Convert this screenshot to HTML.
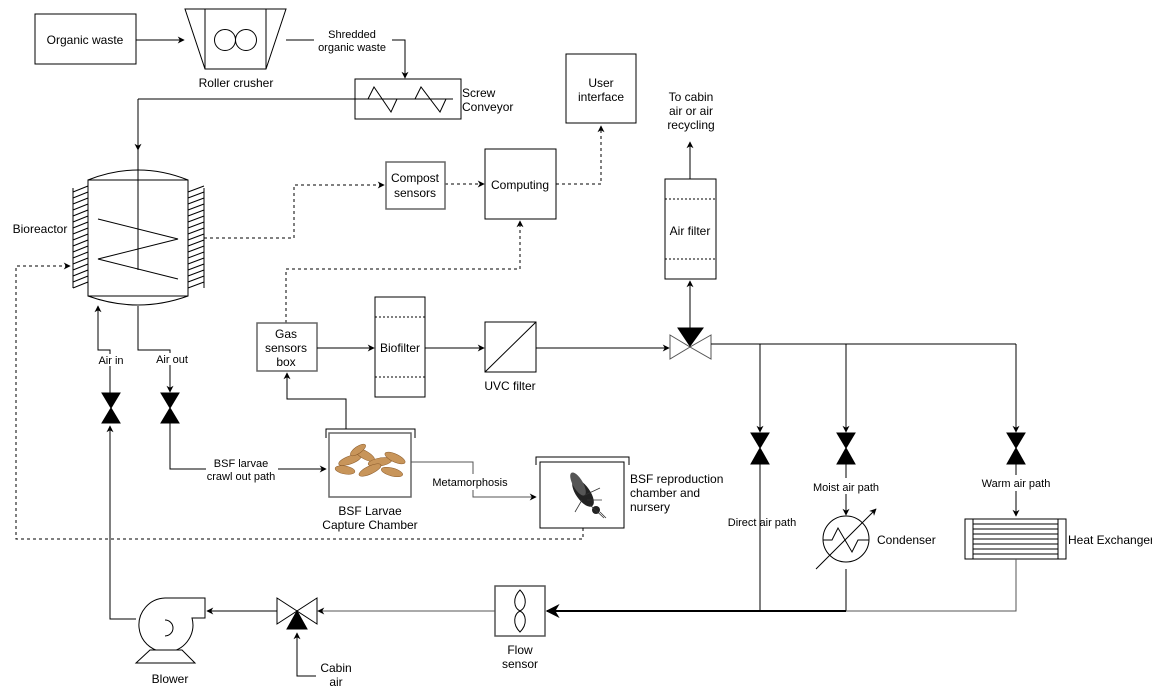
<!DOCTYPE html>
<html><head><meta charset="utf-8"><style>
html,body{margin:0;padding:0;background:#fff;}
svg{display:block;font-family:"Liberation Sans",Arial,sans-serif;}
text{font-size:12px;fill:#000;}
.s{font-size:11px;}
</style></head><body>
<svg width="1152" height="687" viewBox="0 0 1152 687" xmlns="http://www.w3.org/2000/svg">
<defs>
<marker id="a" viewBox="0 0 10 10" refX="9" refY="5" markerWidth="7" markerHeight="7" orient="auto-start-reverse"><path d="M0,0 L10,5 L0,10 L3,5 z" fill="#000"/></marker>
</defs>
<g fill="none" stroke="#000" stroke-width="1">
<!-- organic waste -->
<rect x="35" y="14" width="101" height="50"/>
<line x1="136" y1="40" x2="184" y2="40" marker-end="url(#a)"/>
<!-- roller crusher -->
<path d="M185,9 L286,9 L266,69 L205,69 Z"/>
<line x1="205" y1="9" x2="205" y2="69"/><line x1="266" y1="9" x2="266" y2="69"/>
<circle cx="225" cy="40" r="10.5"/><circle cx="246" cy="40" r="10.5"/>
<!-- shredded -->
<path d="M286,40 L314,40 M392,40 L405,40 L405,78" marker-end="url(#a)"/>
<!-- screw conveyor -->
<rect x="355" y="79" width="106" height="40"/>
<path d="M138,99 L453,99"/>
<path d="M368,99 L374,87 L391,112 L397,99 M415,99 L421,87 L440,112 L446,99"/>
<line x1="138" y1="99" x2="138" y2="150" marker-end="url(#a)"/>
<line x1="138" y1="150" x2="138" y2="270"/>
<!-- bioreactor -->
<rect x="88" y="180" width="100" height="116"/>
<path d="M88,180 Q138,160 188,180 M88,296 Q138,314 188,296"/>
<path d="M98,219 L178,239 L98,259 L178,279"/>
<path d="M73,188 V288 M88,188 V288 M188,188 V288 M204,188 V288"/>
<path d="M73,192 L88,186 M73,198 L88,192 M73,204 L88,198 M73,210 L88,204 M73,216 L88,210 M73,222 L88,216 M73,228 L88,222 M73,234 L88,228 M73,240 L88,234 M73,246 L88,240 M73,252 L88,246 M73,258 L88,252 M73,264 L88,258 M73,270 L88,264 M73,276 L88,270 M73,282 L88,276 M73,288 L88,282"/>
<path d="M188,192 L204,186 M188,198 L204,192 M188,204 L204,198 M188,210 L204,204 M188,216 L204,210 M188,222 L204,216 M188,228 L204,222 M188,234 L204,228 M188,240 L204,234 M188,246 L204,240 M188,252 L204,246 M188,258 L204,252 M188,264 L204,258 M188,270 L204,264 M188,276 L204,270 M188,282 L204,276 M188,288 L204,282"/>
<!-- dashed signal lines -->
<g stroke-dasharray="3,3">
<path d="M204,238 L294,238 L294,185 L384,185" marker-end="url(#a)"/>
<path d="M445,184 L484,184" marker-end="url(#a)"/>
<path d="M556,184 L601,184 L601,126" marker-end="url(#a)"/>
<path d="M286,323 L286,269 L520,269 L520,221" marker-end="url(#a)"/>
<path d="M583,528 L583,539 L16,539 L16,266 L70,266" marker-end="url(#a)"/>
</g>
<rect x="386" y="162" width="59" height="47" stroke="#666" stroke-width="1.5"/>
<rect x="485" y="149" width="71" height="70"/>
<rect x="566" y="54" width="70" height="69"/>
<!-- air filter -->
<rect x="665" y="179" width="51" height="100"/>
<path d="M665,199 H716 M665,259 H716" stroke-dasharray="2,2"/>
<line x1="690" y1="179" x2="690" y2="142" marker-end="url(#a)"/>
<line x1="690" y1="328" x2="690" y2="281" marker-end="url(#a)"/>
<!-- gas sensors, biofilter, uvc -->
<rect x="257" y="323" width="60" height="48" stroke="#666" stroke-width="1.5"/>
<line x1="317" y1="348" x2="374" y2="348" marker-end="url(#a)"/>
<rect x="375" y="297" width="50" height="100"/>
<path d="M375,317 H425 M375,377 H425" stroke-dasharray="2,2"/>
<line x1="425" y1="348" x2="484" y2="348" marker-end="url(#a)"/>
<rect x="485" y="322" width="51" height="50"/>
<line x1="485" y1="372" x2="536" y2="322"/>
<line x1="536" y1="348" x2="669" y2="348" marker-end="url(#a)"/>
<!-- 3-way valve -->
<path d="M670,335 L690,347 L670,359 Z M711,335 L690,347 L711,359 Z" stroke="#555"/>
<path d="M678,328 L703,328 L690,346 Z" fill="#000"/>
<path d="M711,344 L1016,344"/>
<line x1="760" y1="344" x2="760" y2="432" marker-end="url(#a)"/>
<line x1="846" y1="344" x2="846" y2="432" marker-end="url(#a)"/>
<line x1="1016" y1="344" x2="1016" y2="432" marker-end="url(#a)"/>
<g fill="#000">
<path d="M751,433 L769,433 L760,448 Z M751,464 L769,464 L760,448 Z"/>
<path d="M837,433 L855,433 L846,448 Z M837,464 L855,464 L846,448 Z"/>
<path d="M1007,433 L1025,433 L1016,448 Z M1007,464 L1025,464 L1016,448 Z"/>
<path d="M102,393 L120,393 L111,408 Z M102,423 L120,423 L111,408 Z"/>
<path d="M161,393 L179,393 L170,408 Z M161,423 L179,423 L170,408 Z"/>
</g>
<path d="M760,464 V611"/>
<path d="M846,464 V478 M846,494 V515" marker-end="url(#a)"/>
<circle cx="846" cy="539" r="23"/>
<path d="M823,540 L832,540 L838,528 L852,552 L858,540 L869,540"/>
<line x1="816" y1="569" x2="876" y2="509" marker-end="url(#a)"/>
<path d="M846,569 V611"/>
<path d="M1016,464 V475 M1016,491 V516" marker-end="url(#a)"/>
<rect x="965" y="519" width="101" height="40"/>
<path d="M973,519 V559 M1058,519 V559 M973,524 H1058 M973,529 H1058 M973,534 H1058 M973,539 H1058 M973,544 H1058 M973,549 H1058 M973,554 H1058"/>
<path d="M1016,559 V611 H846" stroke="#555"/>
<line x1="846" y1="611" x2="547" y2="611" stroke-width="2" marker-end="url(#a)"/>
<!-- flow sensor -->
<rect x="495" y="586" width="50" height="50" stroke="#555" stroke-width="1.5"/>
<path d="M520,590 C512,598 514,608 520,611 C526,614 528,624 520,632 C512,624 514,614 520,611 C526,608 528,598 520,590 Z"/>
<line x1="495" y1="611" x2="318" y2="611" stroke="#555" marker-end="url(#a)"/>
<!-- cabin valve -->
<path d="M277,598 L297,611 L277,624 Z M317,598 L297,611 L317,624 Z"/>
<path d="M297,611 L307,629 L287,629 Z" fill="#000"/>
<path d="M316,676 L297,676 L297,633" marker-end="url(#a)"/>
<line x1="277" y1="611" x2="207" y2="611" marker-end="url(#a)"/>
<!-- blower -->
<path d="M165,598 L205,598 L205,618 L192,618 A27,27 0 1 1 165,598"/>
<path d="M165,620 A8,8 0 1 1 165,636"/>
<path d="M136,663 L195,663 L182,650 L150,650 Z" fill="#fff"/>
<path d="M136,619 L110,619 L110,426" marker-end="url(#a)"/>
<!-- air in / out -->
<path d="M110,393 L110,366 M110,354 L110,350 L98,350 L98,306" marker-end="url(#a)"/>
<path d="M138,306 L138,350 L170,350 L170,353 M170,365 L170,392" marker-end="url(#a)"/>
<path d="M170,423 L170,469 L206,469 M278,469 L326,469" marker-end="url(#a)"/>
<!-- capture chamber -->
<path d="M326,438 L326,429 L415,429 L415,438"/>
<rect x="329" y="433" width="82" height="64" stroke="#666" stroke-width="1.5"/>
<path d="M346,429 L346,399 L287,399 L287,373" marker-end="url(#a)"/>
<path d="M411,462 L473,462 L473,474 M473,490 L473,497 L536,497" stroke="#555" marker-end="url(#a)"/>
<!-- fly chamber -->
<path d="M536,465 L536,457 L629,457 L629,465"/>
<rect x="540" y="462" width="84" height="66"/>
</g>
<!-- larvae -->
<g fill="#c8955a" stroke="#8a5a2a" stroke-width="0.5">
<ellipse cx="350" cy="460" rx="12" ry="4" transform="rotate(-20 350 460)"/>
<ellipse cx="365" cy="455" rx="11" ry="4" transform="rotate(30 365 455)"/>
<ellipse cx="380" cy="462" rx="12" ry="4" transform="rotate(-10 380 462)"/>
<ellipse cx="395" cy="458" rx="11" ry="4" transform="rotate(25 395 458)"/>
<ellipse cx="345" cy="470" rx="10" ry="4" transform="rotate(10 345 470)"/>
<ellipse cx="370" cy="470" rx="12" ry="4" transform="rotate(-25 370 470)"/>
<ellipse cx="392" cy="472" rx="11" ry="4" transform="rotate(15 392 472)"/>
<ellipse cx="358" cy="450" rx="9" ry="3.5" transform="rotate(-35 358 450)"/>
</g>
<!-- fly -->
<g fill="#222">
<ellipse cx="583" cy="493" rx="7" ry="16" transform="rotate(-35 583 493)"/>
<ellipse cx="578" cy="484" rx="5" ry="13" transform="rotate(-30 578 484)" fill="#555"/>
<circle cx="596" cy="510" r="4"/>
</g>
<g stroke="#333" stroke-width="0.8">
<path d="M585,495 L600,488 M587,500 L602,500 M582,500 L575,512 M590,505 L604,518 M600,512 L606,518"/>
</g>
<!-- text -->
<g text-anchor="middle">
<text x="85" y="44">Organic waste</text>
<text x="236" y="87">Roller crusher</text>
<text class="s" x="352" y="38">Shredded</text>
<text class="s" x="352" y="51">organic waste</text>
<text x="415" y="182">Compost</text>
<text x="415" y="197">sensors</text>
<text x="520" y="189">Computing</text>
<text x="601" y="87">User</text>
<text x="601" y="101">interface</text>
<text x="691" y="101">To cabin</text>
<text x="691" y="115">air or air</text>
<text x="691" y="129">recycling</text>
<text x="690" y="235">Air filter</text>
<text x="286" y="338">Gas</text>
<text x="286" y="352">sensors</text>
<text x="286" y="366">box</text>
<text x="400" y="352">Biofilter</text>
<text x="510" y="390">UVC filter</text>
<text class="s" x="111" y="364">Air in</text>
<text class="s" x="172" y="363">Air out</text>
<text class="s" x="241" y="467">BSF larvae</text>
<text class="s" x="241" y="480">crawl out path</text>
<text x="370" y="515">BSF Larvae</text>
<text x="370" y="529">Capture Chamber</text>
<text class="s" x="470" y="486">Metamorphosis</text>
<text class="s" x="762" y="526">Direct air path</text>
<text class="s" x="846" y="491">Moist air path</text>
<text class="s" x="1016" y="487">Warm air path</text>
<text x="520" y="654">Flow</text>
<text x="520" y="668">sensor</text>
<text x="336" y="672">Cabin</text>
<text x="336" y="686">air</text>
<text x="170" y="683">Blower</text>
<text x="40" y="233">Bioreactor</text>
</g>
<text x="462" y="97">Screw</text>
<text x="462" y="111">Conveyor</text>
<text x="630" y="483">BSF reproduction</text>
<text x="630" y="497">chamber and</text>
<text x="630" y="511">nursery</text>
<text x="877" y="544">Condenser</text>
<text x="1068" y="544">Heat Exchanger</text>
</svg>
</body></html>
